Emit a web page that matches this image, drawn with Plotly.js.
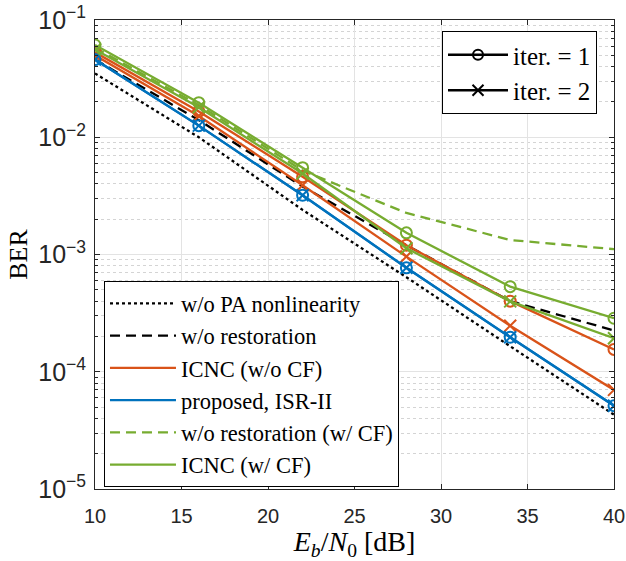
<!DOCTYPE html>
<html>
<head>
<meta charset="utf-8">
<script src="https://cdn.plot.ly/plotly-3.0.1.min.js"></script>
<style>html,body{margin:0;padding:0;background:#fff;}#chart{width:626px;height:561px;}</style>
</head>
<body>
<div id="chart"></div>
<script>
// ---- data ----
const snr = [10, 16, 22, 28, 34, 40];
const noPA = [0.035, 0.0100, 0.0024, 0.00064, 0.000165, 0.000043];
const noRestoration = [0.046, 0.0140, 0.0038, 0.00120, 0.00040, 0.000225];
const noRestorationCF = [0.058, 0.0188, 0.0052, 0.00226, 0.00133, 0.00111];
const icncNoCF_iter1 = [0.053, 0.0166, 0.0046, 0.00120, 0.00040, 0.000155];
const icncNoCF_iter2 = [0.050, 0.0152, 0.0039, 0.00096, 0.000247, 0.000070];
const proposed_iter1 = [0.046, 0.01256, 0.0032, 0.00077, 0.000197, 0.0000513];
const proposed_iter2 = [0.046, 0.01256, 0.0032, 0.00077, 0.000197, 0.0000513];
const icncCF_iter1 = [0.0612, 0.0197, 0.0055, 0.00153, 0.000532, 0.000286];
const icncCF_iter2 = [0.056, 0.0180, 0.0049, 0.00113, 0.000398, 0.000193];
const seriesNames = ['w/o PA nonlinearity', 'w/o restoration', 'ICNC (w/o CF)', 'proposed, ISR-II', 'w/o restoration (w/ CF)', 'ICNC (w/ CF)'];
const iterNames = ['iter. = 1', 'iter. = 2'];
const xTickVals = [10, 15, 20, 25, 30, 35, 40];

// ---- styles ----
const BLACK = '#000000', ORANGE = '#D95319', BLUE = '#0072BD', GREEN = '#77AC30';
const LW = 2.3;
const DASH = '10px,6px';

function line(y, color, dash, name, marker) {
  const t = {x: snr, y: y, type: 'scatter', mode: marker ? 'lines+markers' : 'lines',
    line: {color: color, width: LW, dash: dash || 'solid'}, showlegend: false, name: name, hoverinfo: 'skip'};
  if (marker) t.marker = {symbol: marker, size: marker === 'circle-open' ? 11 : 12, color: color, line: {color: color, width: 2}};
  return t;
}
function legItem(name, color, dash, legend, marker) {
  const t = {x: [null], y: [null], type: 'scatter', mode: marker ? 'lines+markers' : 'lines', name: name,
    line: {color: color, width: LW, dash: dash || 'solid'}, showlegend: true, legend: legend};
  if (marker) t.marker = {symbol: marker, size: marker === 'circle-open' ? 10 : 11, color: color, line: {color: color, width: 2}};
  return t;
}

const traces = [
  line(noPA, BLACK, 'dot'),
  line(noRestoration, BLACK, DASH),
  line(noRestorationCF, GREEN, DASH),
  line(icncNoCF_iter1, ORANGE, null, '', 'circle-open'),
  line(icncNoCF_iter2, ORANGE, null, '', 'x-thin-open'),
  line(proposed_iter1, BLUE, null, '', 'circle-open'),
  line(proposed_iter2, BLUE, null, '', 'x-thin-open'),
  line(icncCF_iter1, GREEN, null, '', 'circle-open'),
  line(icncCF_iter2, GREEN, null, '', 'x-thin-open'),
  legItem(seriesNames[0], BLACK, 'dot', 'legend'),
  legItem(seriesNames[1], BLACK, DASH, 'legend'),
  legItem(seriesNames[2], ORANGE, null, 'legend'),
  legItem(seriesNames[3], BLUE, null, 'legend'),
  legItem(seriesNames[4], GREEN, DASH, 'legend'),
  legItem(seriesNames[5], GREEN, null, 'legend'),
  legItem(iterNames[0], BLACK, null, 'legend2', 'circle-open'),
  legItem(iterNames[1], BLACK, null, 'legend2', 'x-thin-open'),
];

const AX = '#262626';
const SERIF = 'Liberation Serif, Times New Roman, serif';
const SANS = 'Liberation Sans, Arial, sans-serif';
const layout = {
  width: 626, height: 561,
  margin: {l: 95, r: 12, t: 20, b: 72},
  paper_bgcolor: '#ffffff', plot_bgcolor: '#ffffff',
  font: {family: SANS, color: AX, size: 20},
  xaxis: {
    range: [10, 40], tickvals: xTickVals, ticktext: xTickVals.map(String),
    showline: true, linecolor: AX, linewidth: 1, mirror: 'ticks',
    ticks: 'inside', ticklen: 5, tickcolor: AX,
    showgrid: true, gridcolor: '#e3e3e3', gridwidth: 1, zeroline: false,
    tickfont: {size: 20, color: AX, family: SANS},
    ticklabelstandoff: 9,
    title: {text: '<i>E</i><sub><i>b</i></sub>/<i>N</i><sub>0</sub> [dB]', font: {family: SERIF, size: 28, color: BLACK}, standoff: 4}
  },
  yaxis: {
    type: 'log', range: [-5, -1], dtick: 1, exponentformat: 'power',
    showline: true, linecolor: AX, linewidth: 1, mirror: 'ticks',
    ticks: 'inside', ticklen: 5, tickcolor: AX,
    showgrid: true, gridcolor: '#e3e3e3', gridwidth: 1, zeroline: false,
    tickfont: {size: 20, color: AX, family: SANS},
    ticklabelstandoff: 4,
    minor: {ticks: 'inside', ticklen: 3, tickcolor: AX, showgrid: true, gridcolor: '#d4d4d4', griddash: 'dot', gridwidth: 1},
    title: {text: 'BER', font: {family: SERIF, size: 26, color: BLACK}, standoff: 3}
  },
  legend: {
    x: 0.0173, y: 0.443, xanchor: 'left', yanchor: 'top',
    bgcolor: '#ffffff', bordercolor: BLACK, borderwidth: 1,
    font: {family: SERIF, size: 22.5, color: BLACK},
    traceorder: 'normal', itemwidth: 66
  },
  legend2: {
    x: 0.6686, y: 0.9765, xanchor: 'left', yanchor: 'top',
    bgcolor: '#ffffff', bordercolor: BLACK, borderwidth: 1,
    font: {family: SERIF, size: 25, color: BLACK},
    traceorder: 'normal', itemwidth: 60
  },
  showlegend: true
};

Plotly.newPlot('chart', traces, layout, {displayModeBar: false, staticPlot: true});
</script>
</body>
</html>
